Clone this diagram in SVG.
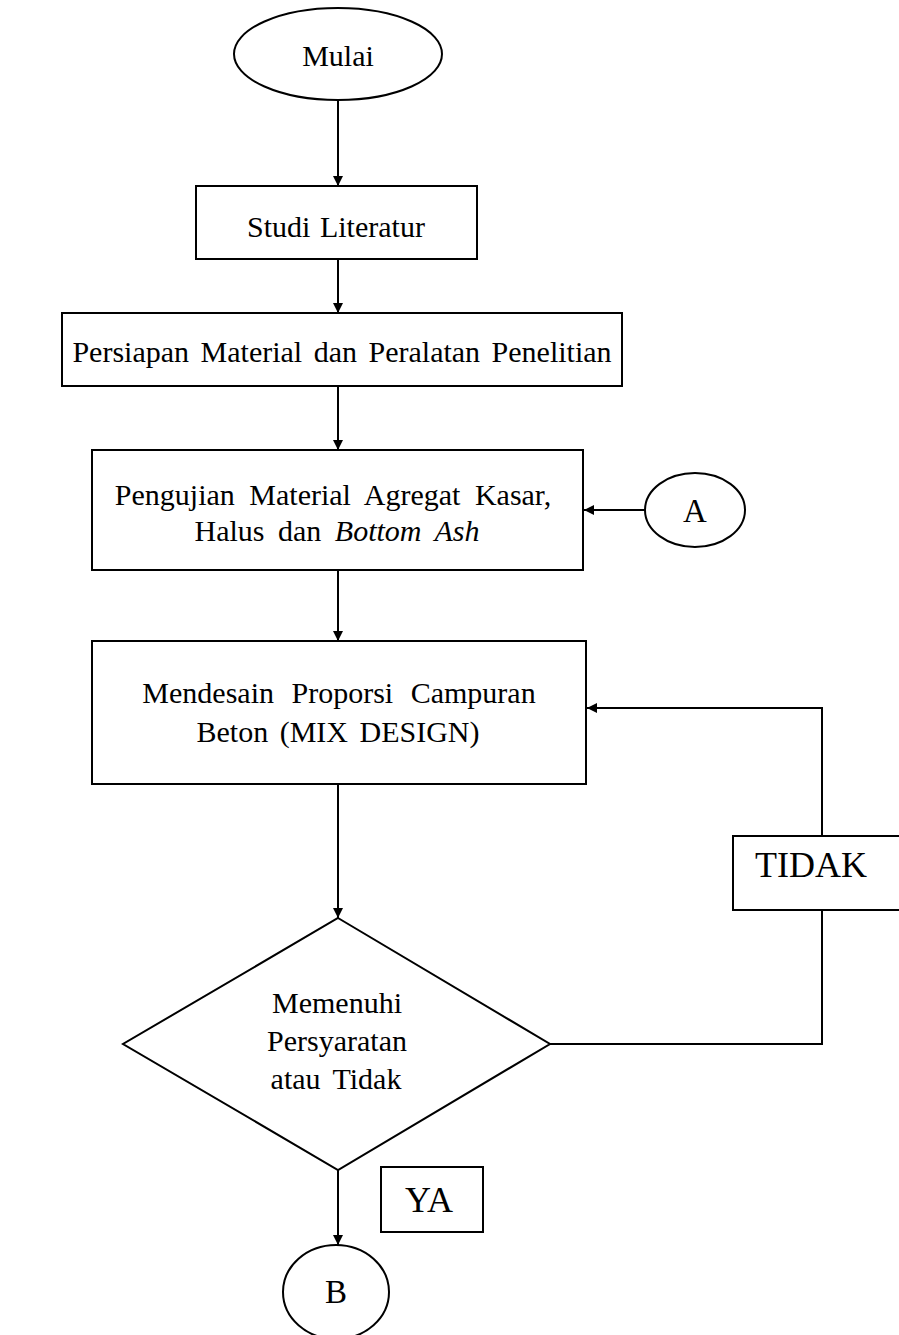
<svg xmlns="http://www.w3.org/2000/svg" width="899" height="1335" viewBox="0 0 899 1335">
<style>
.s{fill:none;stroke:#000;stroke-width:2}
.w{fill:#fff;stroke:#000;stroke-width:2}
text{font-family:"Liberation Serif","Times New Roman",serif;font-size:30px;fill:#000;text-anchor:middle}
.big{font-size:36px}
.c{font-size:33px}
</style>
<defs>
<marker id="ah" viewBox="0 0 10 10" refX="10" refY="5" markerWidth="10" markerHeight="10" markerUnits="userSpaceOnUse" orient="auto">
<path d="M0,0 L10,5 L0,10 z" fill="#000"/>
</marker>
</defs>
<rect width="899" height="1335" fill="#fff"/>
<g id="connectors">
<line class="s" x1="338" y1="100" x2="338" y2="186" marker-end="url(#ah)"/>
<line class="s" x1="338" y1="259" x2="338" y2="313" marker-end="url(#ah)"/>
<line class="s" x1="338" y1="386" x2="338" y2="450" marker-end="url(#ah)"/>
<line class="s" x1="645" y1="510" x2="584" y2="510" marker-end="url(#ah)"/>
<line class="s" x1="338" y1="570" x2="338" y2="641" marker-end="url(#ah)"/>
<line class="s" x1="338" y1="784" x2="338" y2="918" marker-end="url(#ah)"/>
<polyline class="s" points="550,1044 822,1044 822,910"/>
<polyline class="s" points="822,836 822,708 587,708" marker-end="url(#ah)"/>
<line class="s" x1="338" y1="1170" x2="338" y2="1245" marker-end="url(#ah)"/>
</g>
<g id="mulai">
<ellipse class="w" cx="338" cy="54" rx="104" ry="46"/>
<text x="338" y="66" font-size="29">Mulai</text>
</g>
<g id="studi">
<rect class="w" x="196" y="186" width="281" height="73"/>
<text x="336" y="237" word-spacing="2">Studi Literatur</text>
</g>
<g id="persiapan">
<rect class="w" x="62" y="313" width="560" height="73"/>
<text x="342" y="362" word-spacing="4">Persiapan Material dan Peralatan Penelitian</text>
</g>
<g id="pengujian">
<rect class="w" x="92" y="450" width="491" height="120"/>
<text x="333" y="505" word-spacing="7">Pengujian Material Agregat Kasar,</text>
<text x="337" y="541" word-spacing="6">Halus dan <tspan font-style="italic">Bottom Ash</tspan></text>
</g>
<g id="a">
<ellipse class="w" cx="695" cy="510" rx="50" ry="37"/>
<text x="695" y="522" class="c">A</text>
</g>
<g id="mendesain">
<rect class="w" x="92" y="641" width="494" height="143"/>
<text x="339" y="703" word-spacing="10">Mendesain Proporsi Campuran</text>
<text x="338" y="742" word-spacing="4">Beton (MIX DESIGN)</text>
</g>
<g id="keputusan">
<polygon class="w" points="338,918 550,1044 338,1170 123,1044"/>
<text x="337" y="1013">Memenuhi</text>
<text x="337" y="1051">Persyaratan</text>
<text x="336" y="1089" word-spacing="5">atau Tidak</text>
</g>
<g id="tidak">
<rect class="w" x="733" y="836" width="170" height="74"/>
<text x="811" y="877" class="big">TIDAK</text>
</g>
<g id="ya">
<rect class="w" x="381" y="1167" width="102" height="65"/>
<text x="429" y="1212" class="big">YA</text>
</g>
<g id="b">
<ellipse class="w" cx="336" cy="1292" rx="53" ry="47"/>
<text x="336" y="1303" class="c">B</text>
</g>
</svg>
